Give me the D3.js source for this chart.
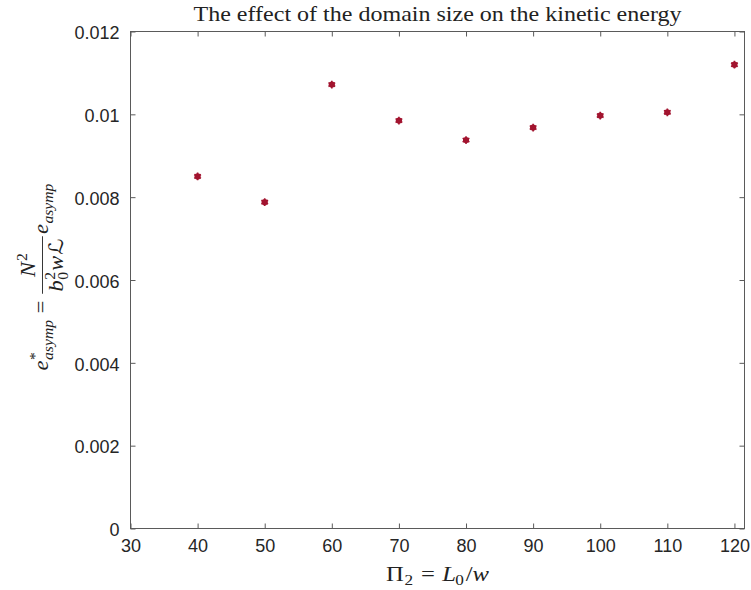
<!DOCTYPE html>
<html>
<head>
<meta charset="utf-8">
<script src="https://cdn.jsdelivr.net/npm/d3@7"></script>
<style>
  html, body { margin: 0; padding: 0; background: #fff; }
  svg { display: block; }
</style>
</head>
<body>
<svg id="chart" width="751" height="590"></svg>
<script>
// Domain size ratio Pi_2 = L0/w and the scaled asymptotic kinetic energy
const domainRatio = [40, 50, 60, 70, 80, 90, 100, 110, 120];
const energyScaled = [0.00850, 0.00788, 0.01072, 0.00985, 0.00938, 0.00968, 0.00997, 0.01005, 0.01120];

const xTicks = [30, 40, 50, 60, 70, 80, 90, 100, 110, 120];
const yTicks = [0, 0.002, 0.004, 0.006, 0.008, 0.01, 0.012];
const yTickLabels = ["0", "0.002", "0.004", "0.006", "0.008", "0.01", "0.012"];

const box = { left: 130.5, right: 744.5, top: 31.5, bottom: 528.5 };
const axisColor = "#5a5a5a";
const textColor = "#262626";
const markColor = "#a2142f";
const sansFont = "'Liberation Sans', Arial, Helvetica, sans-serif";
const serifFont = "'Liberation Serif', 'Times New Roman', serif";

const svg = d3.select("#chart");

const x = d3.scaleLinear().domain([30, 121.5]).range([box.left, box.right]);
const y = d3.scaleLinear().domain([0, 0.012]).range([box.bottom, box.top]);

// Box outline
svg.append("rect")
  .attr("x", box.left).attr("y", box.top)
  .attr("width", box.right - box.left).attr("height", box.bottom - box.top)
  .attr("fill", "none").attr("stroke", axisColor).attr("stroke-width", 1);

// Axes with inward ticks (mirrored on top/right)
const tickLen = 5;
const xAxis = d3.axisBottom(x).tickValues(xTicks).tickSizeInner(-tickLen).tickSizeOuter(0).tickPadding(11);
const yAxis = d3.axisLeft(y).tickValues(yTicks).tickFormat((d, i) => yTickLabels[i])
  .tickSizeInner(-tickLen).tickSizeOuter(0).tickPadding(11);

svg.append("g").attr("transform", `translate(0,${box.bottom})`).call(xAxis);
const gy = svg.append("g").attr("transform", `translate(${box.left},0)`).call(yAxis);
svg.append("g").attr("transform", `translate(0,${box.top})`)
  .call(d3.axisTop(x).tickValues(xTicks).tickSizeInner(-tickLen).tickSizeOuter(0).tickFormat(""));
svg.append("g").attr("transform", `translate(${box.right},0)`)
  .call(d3.axisRight(y).tickValues(yTicks).tickSizeInner(-tickLen).tickSizeOuter(0).tickFormat(""));

svg.selectAll(".domain").remove();
svg.selectAll(".tick line").attr("stroke", axisColor);
svg.selectAll(".tick text")
  .attr("fill", textColor)
  .style("font-family", sansFont)
  .style("font-size", "18px");
gy.selectAll(".tick text").attr("dy", "0.40em");

// Data points: filled asterisk markers
const star = d3.symbol().type(d3.symbolAsterisk).size(42);
const pts = svg.append("g");
domainRatio.forEach((d, i) => {
  const g = pts.append("g").attr("transform", `translate(${x(d)},${y(energyScaled[i])})`);
  g.append("circle").attr("r", 3.1).attr("fill", markColor);
  g.append("path").attr("d", star()).attr("stroke", markColor).attr("stroke-width", 1.6).attr("fill", "none");
});

// Title
svg.append("text")
  .attr("x", (box.left + box.right) / 2).attr("y", 21)
  .attr("text-anchor", "middle")
  .attr("fill", "#222")
  .attr("textLength", 488).attr("lengthAdjust", "spacingAndGlyphs")
  .style("font-family", serifFont).style("font-size", "21.5px")
  .text("The effect of the domain size on the kinetic energy");

// Small helper for laying out math pieces along a baseline
function piece(g, str, px, py, size, italic, family) {
  const t = g.append("text")
    .attr("x", px).attr("y", py)
    .attr("fill", "#222")
    .style("font-family", family || serifFont)
    .style("font-size", size + "px")
    .style("font-style", italic ? "italic" : "normal")
    .text(str);
  return t.node().getComputedTextLength();
}

const F = 20, S = 14;

// x label: Pi_2 = L_0 / w
{
  const g = svg.append("g");
  let cx = 0;
  cx += piece(g, "\u03A0", cx, 0, F, false);
  cx += piece(g, "2", cx + 0.5, 4, S, false) + 1;
  cx += 6;
  cx += piece(g, "=", cx, 0, F, false);
  cx += 6;
  cx += piece(g, "L", cx, 0, F, true);
  cx += piece(g, "0", cx - 0.5, 4, S, false);
  cx += piece(g, "/", cx + 1, 0, F, false) + 1;
  cx += piece(g, "w", cx, 0, F, true);
  const k = 103 / cx;
  g.attr("transform", `translate(${(box.left + box.right) / 2 - 51.5},581) scale(${k},1)`);
}

// y label: e*_asymp = N^2 / (b_0^2 w L) e_asymp, rotated
{
  const g = svg.append("g");
  let cx = 0;
  const we = piece(g, "e", cx, 0, F, true);
  const ws = piece(g, "*", cx + we + 0.5, -8.5, S, false);
  const wa = piece(g, "asymp", cx + we + 0.5, 4.5, S, true);
  cx += we + 0.5 + Math.max(ws, wa);
  cx += 6;
  cx += piece(g, "=", cx, 0, F, false);
  cx += 6;

  // fraction
  const num = g.append("g"), den = g.append("g");
  let nx = 0;
  nx += piece(num, "N", nx, 0, F, true);
  nx += piece(num, "2", nx + 1, -8, S, false) + 1;
  let dx = 0;
  dx += piece(den, "b", dx, 0, F, true);
  const w2 = piece(den, "2", dx + 0.5, -7.5, S, false);
  const w0 = piece(den, "0", dx + 0.5, 5, S, false);
  dx += Math.max(w2, w0) + 1.5;
  dx += piece(den, "w", dx, 0, F, true);
  dx += piece(den, "\u2112", dx + 1, 0, F, false, "'DejaVu Serif', 'DejaVu Sans', serif") + 1;
  const fw = Math.max(nx, dx) + 4;
  num.attr("transform", `translate(${cx + (fw - nx) / 2},-13)`);
  den.attr("transform", `translate(${cx + (fw - dx) / 2},14.5)`);
  g.append("line")
    .attr("x1", cx).attr("x2", cx + fw)
    .attr("y1", -5.5).attr("y2", -5.5)
    .attr("stroke", "#222").attr("stroke-width", 0.9);
  cx += fw + 2;

  const we2 = piece(g, "e", cx, 0, F, true);
  const wa2 = piece(g, "asymp", cx + we2 + 0.5, 4.5, S, true);
  cx += we2 + 0.5 + wa2;

  const k = 187 / cx;
  g.attr("transform", `translate(48,${277 + 93.5}) rotate(-90) scale(${k},1)`);
}
</script>
</body>
</html>
